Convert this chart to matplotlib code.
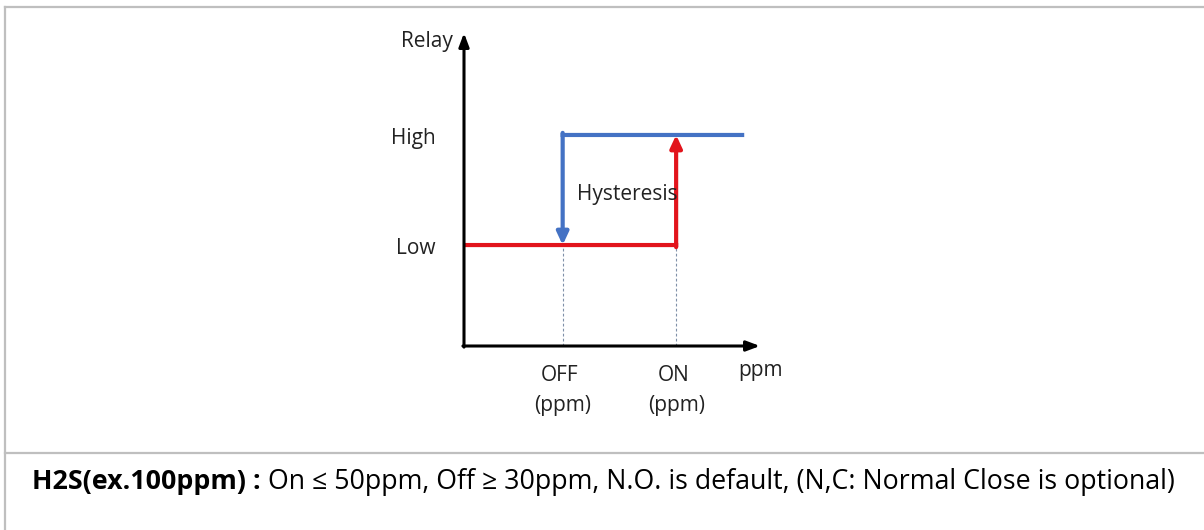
import matplotlib
matplotlib.use("Agg")
import matplotlib.pyplot as plt
from matplotlib.lines import Line2D

plt.rcParams['font.family'] = ['Open Sans', 'DejaVu Sans']

# ---- data (diagram units) ----
level_names = ["Low", "High"]
level_values = [1.0, 2.09]          # relay output levels
threshold_names = ["OFF", "ON"]
threshold_unit = "(ppm)"
threshold_x = [1.0, 2.15]           # OFF / ON switching points
x_axis_end = 3.0
y_axis_end = 3.1
high_end_x = 2.84
bold_text = "H2S(ex.100ppm) : "
note_text = "On \u2264 50ppm, Off \u2265 30ppm, N.O. is default, (N,C: Normal Close is optional)"

W, H = 1204, 530
fig = plt.figure(figsize=(W / 100, H / 100), dpi=100)

# frame lines (table cell borders)
grey = "#bfbfbf"
for xs, ys in [([5 / W, 1], [1 - 7 / H, 1 - 7 / H]),
               ([5 / W, 5 / W], [1 - 7 / H, 0]),
               ([5 / W, 1], [1 - 453 / H, 1 - 453 / H])]:
    fig.add_artist(Line2D(xs, ys, color=grey, lw=1.6, transform=fig.transFigure))

# diagram axes
ax_l, ax_r, ax_b, ax_t = 464 / W, 760 / W, 1 - 346 / H, 1 - 33 / H
ax = fig.add_axes([ax_l, ax_b, ax_r - ax_l, ax_t - ax_b])
ax.set_xlim(0, x_axis_end)
ax.set_ylim(0, y_axis_end)
ax.axis("off")

low, high = level_values
x_off, x_on = threshold_x
blue = "#4472c4"
red = "#e2141c"
lw = 3.0
hx = 0.021   # half line width in x units
hy = 0.021   # half line width in y units

# axes with arrows
ax.annotate("", xy=(0, y_axis_end), xytext=(0, -0.011),
            arrowprops=dict(arrowstyle="-|>,head_width=0.3,head_length=0.8",
                            color="black", lw=2.2, shrinkA=0, shrinkB=0),
            annotation_clip=False)
ax.annotate("", xy=(x_axis_end, 0), xytext=(-0.011, 0),
            arrowprops=dict(arrowstyle="-|>,head_width=0.3,head_length=0.8",
                            color="black", lw=2.2, shrinkA=0, shrinkB=0),
            annotation_clip=False)

# dashed guide lines
for xv in threshold_x:
    ax.plot([xv, xv], [0, low], color="#7f90a8", lw=0.8,
            linestyle=(0, (2.5, 2)), clip_on=False)

# blue path (high level, dropping at OFF)
ax.plot([high_end_x, x_off - hx], [high, high], color=blue, lw=lw,
        solid_capstyle="butt", clip_on=False, snap=False)
ax.annotate("", xy=(x_off, low), xytext=(x_off, high + hy),
            arrowprops=dict(arrowstyle="-|>,head_width=0.35,head_length=0.75",
                            color=blue, lw=lw, shrinkA=0, shrinkB=0),
            annotation_clip=False)

# red path (low level, rising at ON)
ax.plot([0, x_on + hx], [low, low], color=red, lw=lw,
        solid_capstyle="butt", clip_on=False, snap=False)
ax.annotate("", xy=(x_on, high), xytext=(x_on, low - hy),
            arrowprops=dict(arrowstyle="-|>,head_width=0.35,head_length=0.75",
                            color=red, lw=lw, shrinkA=0, shrinkB=0),
            annotation_clip=False)

# labels
fs = 15
tc = "#222222"
ax.text(-0.11, 3.02, "Relay", ha="right", va="center", fontsize=fs, color=tc)
for name, yv in zip(level_names, level_values):
    ax.text(-0.29, yv - 0.03, name, ha="right", va="center", fontsize=fs, color=tc)
ax.text(1.66, 1.5, "Hysteresis", ha="center", va="center", fontsize=fs, color=tc)
for name, xv in zip(threshold_names, threshold_x):
    ax.text(xv - 0.03, -0.29, name, ha="center", va="center", fontsize=fs, color=tc)
    ax.text(xv, -0.585, threshold_unit, ha="center", va="center", fontsize=fs, color=tc)
ax.text(3.0, -0.24, "ppm", ha="center", va="center", fontsize=fs, color=tc)

# bottom note
y_note = 1 - 482 / H
nfs = 19.3
t1 = fig.text(32 / W, y_note, bold_text, fontsize=nfs, fontweight="bold",
              ha="left", va="center", color="black")
fig.canvas.draw()
bb = t1.get_window_extent()
fig.text(bb.x1 / W, y_note, note_text, fontsize=nfs, ha="left", va="center",
         color="black")

fig.savefig("out.png", dpi=100)
